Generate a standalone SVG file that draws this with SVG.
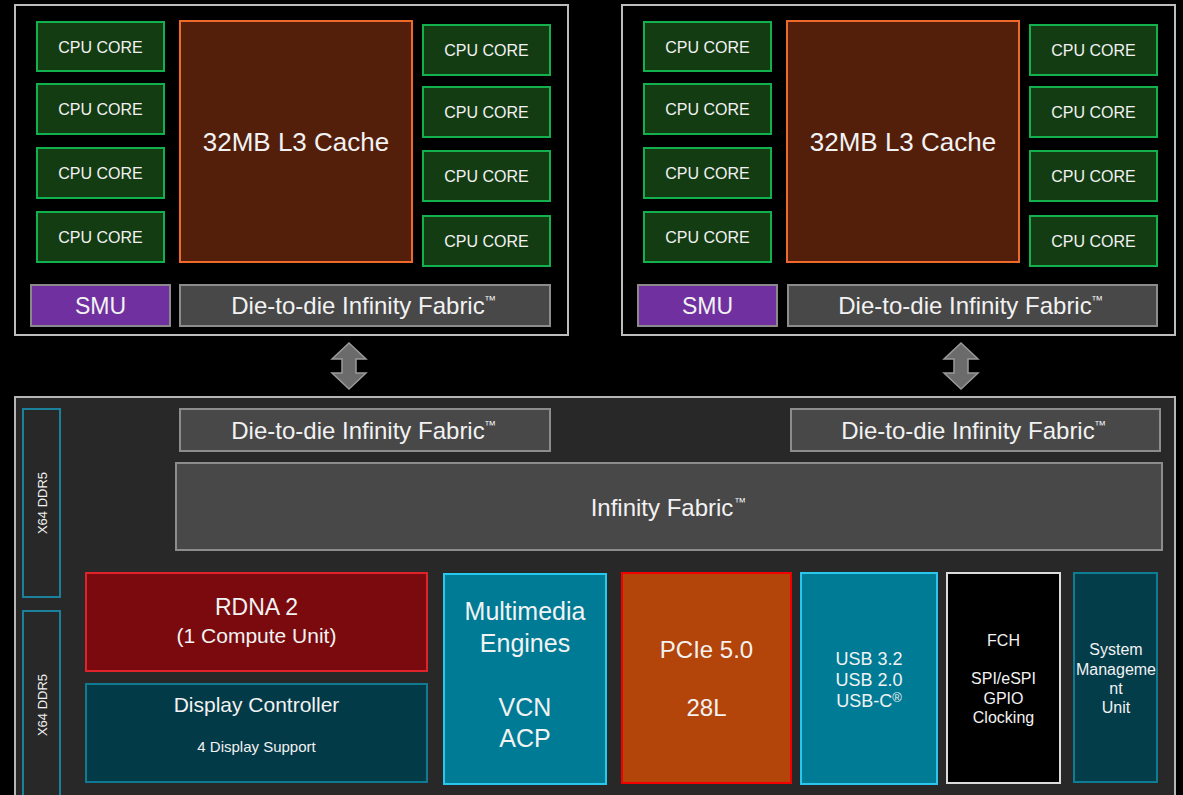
<svg xmlns="http://www.w3.org/2000/svg" width="1183" height="795" viewBox="0 0 1183 795">
<defs>
<style>
text{font-family:"Liberation Sans",Arial,sans-serif;fill:#f2f2f2;text-anchor:middle}
.ccd{fill:#000;stroke:#bdbdbd;stroke-width:2}
.core{fill:#143c12;stroke:#12b14e;stroke-width:2}
.core-t{font-size:16px}
.l3{fill:#531f0b;stroke:#ee6a2a;stroke-width:2}
.smu{fill:#7030a0;stroke:#8a8a8a;stroke-width:2}
.d2d{fill:#484848;stroke:#8c8c8c;stroke-width:2}
.big{font-size:24px}
.iod{fill:#282828;stroke:#b5b5b5;stroke-width:2}
.ddr{fill:#282828;stroke:#1a809c;stroke-width:2}
.arrow{fill:#6b6b6b;stroke:#9a9a9a;stroke-width:1.5}
.tm{font-size:12px}
</style>
</defs>
<rect width="1183" height="795" fill="#000"/>

<!-- CCD left -->
<g id="ccd-left">
<rect class="ccd" x="15" y="5" width="553" height="330"/>
<g id="ccd1-core1"><rect class="core" x="37" y="22" width="127" height="49"/><text class="core-t" x="100.5" y="52.5">CPU CORE</text></g>
<g id="ccd1-core2"><rect class="core" x="37" y="84" width="127" height="50"/><text class="core-t" x="100.5" y="114.5">CPU CORE</text></g>
<g id="ccd1-core3"><rect class="core" x="37" y="148" width="127" height="50"/><text class="core-t" x="100.5" y="178.5">CPU CORE</text></g>
<g id="ccd1-core4"><rect class="core" x="37" y="212" width="127" height="50"/><text class="core-t" x="100.5" y="242.5">CPU CORE</text></g>
<g id="ccd1-l3"><rect class="l3" x="180" y="21" width="232" height="241"/><text x="296" y="151" style="font-size:26px">32MB L3 Cache</text></g>
<g id="ccd1-core5"><rect class="core" x="423" y="25" width="127" height="50"/><text class="core-t" x="486.5" y="55.5">CPU CORE</text></g>
<g id="ccd1-core6"><rect class="core" x="423" y="87" width="127" height="50"/><text class="core-t" x="486.5" y="117.5">CPU CORE</text></g>
<g id="ccd1-core7"><rect class="core" x="423" y="151" width="127" height="50"/><text class="core-t" x="486.5" y="181.5">CPU CORE</text></g>
<g id="ccd1-core8"><rect class="core" x="423" y="216" width="127" height="50"/><text class="core-t" x="486.5" y="246.5">CPU CORE</text></g>
<g id="ccd1-smu"><rect class="smu" x="31" y="285" width="139" height="41"/><text x="100.5" y="314" style="font-size:23px">SMU</text></g>
<g id="ccd1-d2d"><rect class="d2d" x="180" y="285" width="370" height="41"/><text class="big" x="358" y="314">Die-to-die Infinity Fabric</text><text class="tm" x="490" y="304">™</text></g>
</g>

<!-- CCD right -->
<g id="ccd-right">
<rect class="ccd" x="622" y="5" width="553" height="330"/>
<g id="ccd2-core1"><rect class="core" x="644" y="22" width="127" height="49"/><text class="core-t" x="707.5" y="52.5">CPU CORE</text></g>
<g id="ccd2-core2"><rect class="core" x="644" y="84" width="127" height="50"/><text class="core-t" x="707.5" y="114.5">CPU CORE</text></g>
<g id="ccd2-core3"><rect class="core" x="644" y="148" width="127" height="50"/><text class="core-t" x="707.5" y="178.5">CPU CORE</text></g>
<g id="ccd2-core4"><rect class="core" x="644" y="212" width="127" height="50"/><text class="core-t" x="707.5" y="242.5">CPU CORE</text></g>
<g id="ccd2-l3"><rect class="l3" x="787" y="21" width="232" height="241"/><text x="903" y="151" style="font-size:26px">32MB L3 Cache</text></g>
<g id="ccd2-core5"><rect class="core" x="1030" y="25" width="127" height="50"/><text class="core-t" x="1093.5" y="55.5">CPU CORE</text></g>
<g id="ccd2-core6"><rect class="core" x="1030" y="87" width="127" height="50"/><text class="core-t" x="1093.5" y="117.5">CPU CORE</text></g>
<g id="ccd2-core7"><rect class="core" x="1030" y="151" width="127" height="50"/><text class="core-t" x="1093.5" y="181.5">CPU CORE</text></g>
<g id="ccd2-core8"><rect class="core" x="1030" y="216" width="127" height="50"/><text class="core-t" x="1093.5" y="246.5">CPU CORE</text></g>
<g id="ccd2-smu"><rect class="smu" x="638" y="285" width="139" height="41"/><text x="707.5" y="314" style="font-size:23px">SMU</text></g>
<g id="ccd2-d2d"><rect class="d2d" x="788" y="285" width="369" height="41"/><text class="big" x="965" y="314">Die-to-die Infinity Fabric</text><text class="tm" x="1097" y="304">™</text></g>
</g>

<!-- IO die -->
<g id="iod">
<rect class="iod" x="15" y="397" width="1160" height="410"/>
</g>
<g id="ddr1"><rect class="ddr" x="23" y="409" width="37" height="188"/><text transform="translate(46.5,503) rotate(-90)" style="font-size:13px">X64 DDR5</text></g>
<g id="ddr2"><rect class="ddr" x="23" y="611" width="37" height="200"/><text transform="translate(46.5,705) rotate(-90)" style="font-size:13px">X64 DDR5</text></g>
<g id="iod-d2d-left"><rect class="d2d" x="180" y="409" width="370" height="42"/><text class="big" x="358" y="439">Die-to-die Infinity Fabric</text><text class="tm" x="490" y="429">™</text></g>
<g id="iod-d2d-right"><rect class="d2d" x="791" y="409" width="369" height="42"/><text class="big" x="968" y="439">Die-to-die Infinity Fabric</text><text class="tm" x="1100" y="429">™</text></g>
<g id="infinity-fabric"><rect class="d2d" x="176" y="463" width="986" height="87"/><text class="big" x="662" y="516">Infinity Fabric</text><text class="tm" x="740" y="506">™</text></g>
<g id="rdna2"><rect x="86" y="573" width="341" height="98" fill="#7a0a0e" stroke="#e0232a" stroke-width="2"/><text x="256.5" y="615" style="font-size:23px">RDNA 2</text><text x="256.5" y="643" style="font-size:21px">(1 Compute Unit)</text></g>
<g id="display-controller"><rect x="86" y="684" width="341" height="98" fill="#033a48" stroke="#0f7a92" stroke-width="2"/><text x="256.5" y="712" style="font-size:21px">Display Controller</text><text x="256.5" y="752" style="font-size:15px">4 Display Support</text></g>
<g id="multimedia"><rect x="444" y="574" width="162" height="210" fill="#007b96" stroke="#26c8ee" stroke-width="2"/><text x="525" y="620" style="font-size:25px">Multimedia</text><text x="525" y="652" style="font-size:25px">Engines</text><text x="525" y="716" style="font-size:25px">VCN</text><text x="525" y="747" style="font-size:25px">ACP</text></g>
<g id="pcie"><rect x="622" y="573" width="169" height="210" fill="#b3440a" stroke="#f20000" stroke-width="2"/><text x="706.5" y="658" style="font-size:24px">PCIe 5.0</text><text x="706.5" y="716" style="font-size:24px">28L</text></g>
<g id="usb"><rect x="801" y="573" width="136" height="211" fill="#007b96" stroke="#29c6ee" stroke-width="2"/><text x="869" y="665" style="font-size:18px">USB 3.2</text><text x="869" y="686" style="font-size:18px">USB 2.0</text><text x="869" y="707" style="font-size:18px">USB-C<tspan style="font-size:13px" dy="-5">®</tspan></text></g>
<g id="fch"><rect x="947" y="573" width="113" height="210" fill="#000" stroke="#dcdcdc" stroke-width="2"/><text x="1003.5" y="646" style="font-size:16px">FCH</text><text x="1003.5" y="684" style="font-size:16px">SPI/eSPI</text><text x="1003.5" y="704" style="font-size:16px">GPIO</text><text x="1003.5" y="723" style="font-size:16px">Clocking</text></g>
<g id="system-management-unit"><rect x="1074" y="573" width="83" height="209" fill="#033d4a" stroke="#0d7d96" stroke-width="2"/><text x="1116" y="655" style="font-size:16px">System</text><text x="1116" y="675" style="font-size:16px">Manageme</text><text x="1116" y="694" style="font-size:16px">nt</text><text x="1116" y="713" style="font-size:16px">Unit</text></g>

<!-- connectors -->
<g id="connectors">
<path class="arrow" d="M349,343 L366,359 L356,359 L356,373 L366,373 L349,389 L332,373 L342,373 L342,359 L332,359 Z"/>
<path class="arrow" d="M961,343 L978,359 L968,359 L968,373 L978,373 L961,389 L944,373 L954,373 L954,359 L944,359 Z"/>
</g>
</svg>
